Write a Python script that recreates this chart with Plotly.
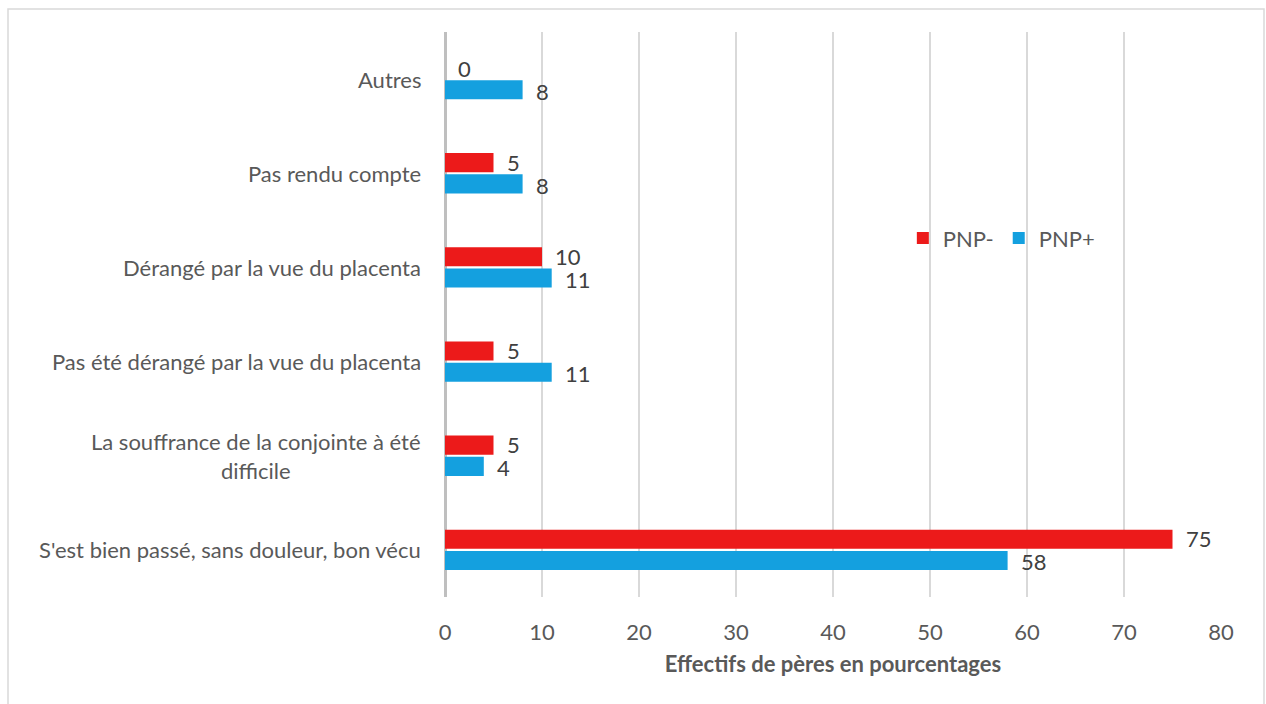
import plotly.graph_objects as go

# Categories listed bottom-to-top, as they appear on the vertical axis
categories = [
    "S'est bien passé, sans douleur, bon vécu",
    "La souffrance de la conjointe à été<br>difficile",
    "Pas été dérangé par la vue du placenta",
    "Dérangé par la vue du placenta",
    "Pas rendu compte",
    "Autres",
]
pnp_moins = [75, 5, 5, 10, 5, 0]
pnp_plus = [58, 4, 11, 11, 8, 8]
x_ticks = [0, 10, 20, 30, 40, 50, 60, 70, 80]

RED = "#EC1A1A"
BLUE = "#14A0DF"
TEXT = "#595959"
FONT = "Lato"
FS = 22

W, H = 1266, 704
L, R, T, B = 445, 45, 32, 107
plot_w, plot_h = W - L - R, H - T - B

fig = go.Figure()
# In a horizontal grouped layout the first trace sits lowest in each group
fig.add_trace(go.Bar(
    y=categories, x=pnp_plus, orientation="h", name="PNP+",
    marker=dict(color=BLUE, line=dict(width=0)),
    legendrank=2,
))
fig.add_trace(go.Bar(
    y=categories, x=pnp_moins, orientation="h", name="PNP-",
    marker=dict(color=RED, line=dict(width=0)),
    legendrank=1,
))

annotations = []
# Value labels just past each bar end
for cat, v_m, v_p in zip(categories, pnp_moins, pnp_plus):
    annotations.append(dict(x=v_m, y=cat, xref="x", yref="y", text=str(v_m),
                            showarrow=False, xanchor="left", yanchor="middle",
                            xshift=11, yshift=11,
                            font=dict(family=FONT, size=FS, color="#404040")))
    annotations.append(dict(x=v_p, y=cat, xref="x", yref="y", text=str(v_p),
                            showarrow=False, xanchor="left", yanchor="middle",
                            xshift=11, yshift=-12,
                            font=dict(family=FONT, size=FS, color="#404040")))
# Category labels, centred line-by-line for wrapped text
for cat in categories:
    annotations.append(dict(x=0, y=cat, xref="paper", yref="y", text=cat,
                            showarrow=False, xanchor="right", yanchor="middle",
                            align="center", xshift=-22,
                            font=dict(family=FONT, size=FS, color=TEXT)))

# Outer chart frame
shapes = [dict(type="rect", xref="paper", yref="paper",
               x0=(8 - L) / plot_w, x1=(1264 - L) / plot_w,
               y0=(T + plot_h - 9) / plot_h, y1=-0.25,
               line=dict(color="#D9D9D9", width=1.5), fillcolor="rgba(0,0,0,0)",
               layer="below")]

fig.update_layout(
    width=W, height=H,
    margin=dict(l=L, r=R, t=T, b=B),
    paper_bgcolor="white", plot_bgcolor="white",
    barmode="group", bargap=0.55, bargroupgap=0.1,
    font=dict(family=FONT, size=FS, color=TEXT),
    showlegend=True,
    legend=dict(orientation="h", x=0.59, y=0.635, xanchor="left", yanchor="middle",
                font=dict(family=FONT, size=FS, color=TEXT),
                bgcolor="rgba(0,0,0,0)", itemwidth=30, tracegroupgap=0),
    xaxis=dict(range=[0, 80], tickvals=x_ticks, ticktext=[str(t) for t in x_ticks],
               showgrid=True, gridcolor="#D9D9D9", gridwidth=2,
               zeroline=True, zerolinecolor="#BFBFBF", zerolinewidth=3,
               showline=False, ticks="", ticklabelstandoff=20,
               tickfont=dict(family=FONT, size=FS, color=TEXT),
               title=dict(text="<b>Effectifs de pères en pourcentages</b>",
                          font=dict(family=FONT, size=22, color=TEXT), standoff=12)),
    yaxis=dict(categoryorder="array", categoryarray=categories,
               showticklabels=False, showgrid=False, zeroline=False, ticks=""),
    annotations=annotations,
    shapes=shapes,
)

fig.write_html("out.html")
